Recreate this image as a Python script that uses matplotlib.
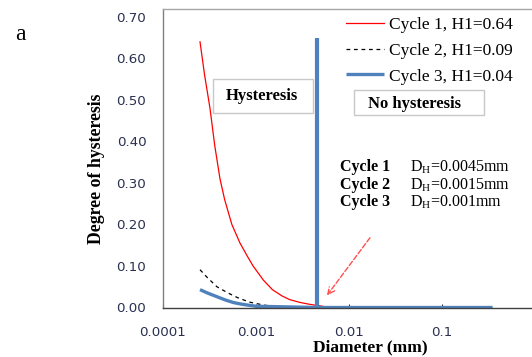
import matplotlib
matplotlib.use("Agg")
import matplotlib.pyplot as plt
from matplotlib.patches import Rectangle

# data
d_cycle1 = [0.00025, 0.00028, 0.00032, 0.00036, 0.00041, 0.00046, 0.00055, 0.00067,
            0.00080, 0.00093, 0.0012, 0.0015, 0.0019, 0.0023, 0.0030, 0.0037, 0.0045, 0.0052]
h_cycle1 = [0.64, 0.56, 0.48, 0.39, 0.31, 0.26, 0.20, 0.156,
            0.125, 0.100, 0.066, 0.043, 0.028, 0.019, 0.012, 0.008, 0.005, 0.003]

d_cycle2 = [0.00025, 0.00030, 0.00038, 0.00050, 0.00063, 0.00085, 0.0012, 0.0015]
h_cycle2 = [0.091, 0.072, 0.050, 0.035, 0.024, 0.013, 0.006, 0.003]

d_cycle3 = [0.00025, 0.00030, 0.00038, 0.00047, 0.00057, 0.00070, 0.00086, 0.0010, 0.0045, 0.35]
h_cycle3 = [0.043, 0.035, 0.026, 0.018, 0.012, 0.008, 0.005, 0.003, 0.0, 0.0]

legend_labels = ["Cycle 1, H1=0.64", "Cycle 2, H1=0.09", "Cycle 3, H1=0.04"]
cycle_names = ["Cycle 1", "Cycle 2", "Cycle 3"]
dh_values = [0.0045, 0.0015, 0.001]
dh_text = ["0.0045mm", "0.0015mm", "0.001mm"]
boundary_top = 0.65

yticks = [0.0, 0.1, 0.2, 0.3, 0.4, 0.5, 0.6, 0.7]
xticks = [0.0001, 0.001, 0.01, 0.1]
xtick_labels = ["0.0001", "0.001", "0.01", "0.1"]

W, H = 532, 357
serif = "Liberation Serif"
blue = "#4f81bd"


def fx(px):
    return px / W


def fy(py):
    return 1 - py / H


fig = plt.figure(figsize=(W / 100, H / 100), dpi=100)
ax = fig.add_axes([fx(163), fy(307.5), 372 / W, 298.5 / H])

ax.plot(d_cycle1, h_cycle1, color="#ff0000", lw=0.9, label=legend_labels[0])
ax.plot(d_cycle2, h_cycle2, color="black", lw=0.9, ls=(0, (3, 3)), label=legend_labels[1])
ax.plot(d_cycle3, h_cycle3, color=blue, lw=2.4, label=legend_labels[2], solid_capstyle="butt")
ax.plot([dh_values[0], dh_values[0]], [0, boundary_top], color=blue, lw=3.0, solid_capstyle="butt")

ax.annotate("", xy=(0.0058, 0.029), xytext=(0.0168, 0.168),
            arrowprops=dict(arrowstyle="->", color="#ff5050", lw=1.0, ls="--",
                            shrinkA=0, shrinkB=0, mutation_scale=12))

ax.set_xscale("log")
ax.set_xlim(1e-4, 1)
ax.set_ylim(0, 0.719)
ax.set_yticks(yticks)
ax.set_yticklabels([f"{v:.2f}" for v in yticks])
ax.set_xticks(xticks)
ax.set_xticklabels(xtick_labels)
ax.xaxis.set_minor_locator(matplotlib.ticker.NullLocator())
ax.tick_params(axis="y", length=0, pad=12, labelsize=9.6, labelcolor="#2a3050")
ax.tick_params(axis="x", direction="in", length=3, color="#303030", pad=13.5,
               labelsize=9.6, labelcolor="#2a3050")
for t in ax.get_xticklabels() + ax.get_yticklabels():
    t.set_family("DejaVu Sans")

ax.spines["right"].set_visible(False)
ax.spines["top"].set_color("#a6a6a6")
ax.spines["left"].set_color("#808080")
ax.spines["bottom"].set_color("#404040")
for s in ax.spines.values():
    s.set_linewidth(1.0)

ax.set_ylabel("Degree of hysteresis", family=serif, fontweight="bold", fontsize=12.8)
ax.yaxis.set_label_coords((105 - 163) / 372, (307.5 - 169) / 298.5)
ax.set_xlabel("Diameter (mm)", family=serif, fontweight="bold", fontsize=12.5)
ax.xaxis.set_label_coords((370 - 163) / 372, (307.5 - 339) / 298.5)

leg = ax.legend(loc="upper left", bbox_to_anchor=(fx(346), fy(17)), bbox_transform=fig.transFigure,
                frameon=False, prop={"family": serif, "size": 12.5}, borderpad=0,
                borderaxespad=0, handlelength=2.2, handletextpad=0.3, labelspacing=0.55)

# text boxes
fig.add_artist(Rectangle((fx(213), fy(113)), 100 / W, 34 / H, transform=fig.transFigure,
                         facecolor="white", edgecolor="#c8c8c8", lw=1.0))
fig.text(fx(262), fy(96), "Hysteresis", family=serif, fontweight="bold", fontsize=12,
         ha="center", va="center")
fig.add_artist(Rectangle((fx(354), fy(115)), 130 / W, 25 / H, transform=fig.transFigure,
                         facecolor="white", edgecolor="#c8c8c8", lw=1.0))
fig.text(fx(414), fy(104), "No hysteresis", family=serif, fontweight="bold", fontsize=12,
         ha="center", va="center")

rows_y = [167, 185, 202]
for name, txt, py in zip(cycle_names, dh_text, rows_y):
    fig.text(fx(340), fy(py), name, family=serif, fontweight="bold", fontsize=11.5,
             ha="left", va="center")
    fig.text(fx(410), fy(py), r"D$_\mathregular{H}$=" + txt, family=serif, fontsize=11.5,
             ha="left", va="center")

fig.text(fx(15), fy(35), "a", family=serif, fontsize=17, ha="left", va="center")

fig.savefig("out.png", dpi=100)
